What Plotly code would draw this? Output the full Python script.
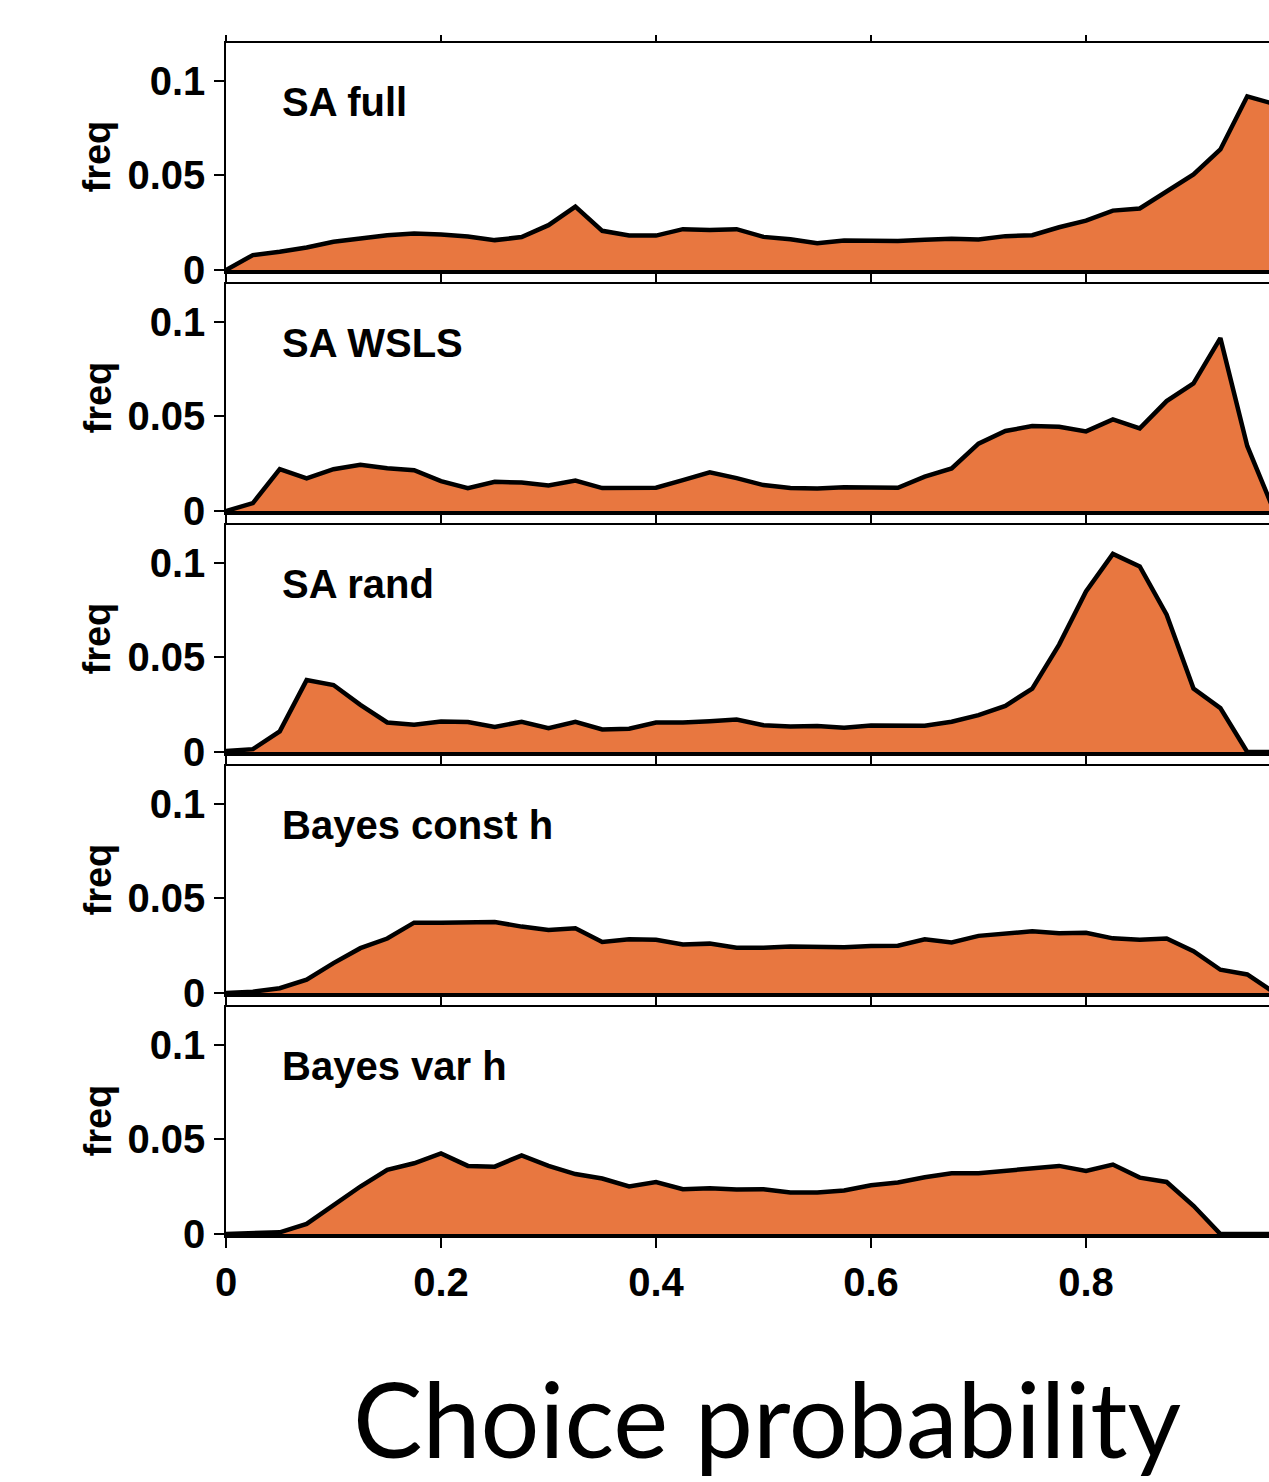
import plotly.graph_objects as go

# ---------------- data ----------------
choice_prob = [0.0, 0.025, 0.05, 0.075, 0.1, 0.125, 0.15, 0.175, 0.2, 0.225,
               0.25, 0.275, 0.3, 0.325, 0.35, 0.375, 0.4, 0.425, 0.45, 0.475,
               0.5, 0.525, 0.55, 0.575, 0.6, 0.625, 0.65, 0.675, 0.7, 0.725,
               0.75, 0.775, 0.8, 0.825, 0.85, 0.875, 0.9, 0.925, 0.95, 0.975]

sa_full = [0, .0079, .0096, .0119, .0149, .0167, .0184, .0193, .0188, .0177,
           .0158, .0174, .0237, .0335, .0207, .0182, .0182, .0216, .0211, .0216,
           .0175, .0163, .0142, .0156, .0156, .0153, .0160, .0165, .0161, .0179,
           .0184, .0226, .0261, .0314, .0325, .0412, .0505, .0637, .0918, .0878]

sa_wsls = [0, .0042, .0221, .0172, .0221, .0244, .0226, .0216, .0158, .0121,
           .0154, .0151, .0135, .0161, .0121, .0123, .0123, .0163, .0204, .0174,
           .0137, .0121, .0119, .0126, .0126, .0123, .0182, .0225, .0356, .0423,
           .0449, .0445, .0421, .0484, .0437, .0581, .0674, .0914, .0344, 0]

sa_rand = [.0005, .0015, .0109, .0380, .0354, .0249, .0156, .0144, .0161, .0158,
           .0132, .0160, .0126, .0160, .0119, .0123, .0156, .0156, .0163, .0172,
           .0142, .0135, .0137, .0128, .0140, .0137, .0139, .0160, .0195, .0244,
           .0335, .0568, .0849, .1047, .0981, .0726, .0335, .0232, 0, 0]

bayes_const = [0, .0007, .0025, .0070, .0158, .0237, .0288, .0372, .0372, .0374,
               .0375, .0351, .0333, .0342, .0270, .0284, .0281, .0256, .0261, .0239,
               .0239, .0246, .0246, .0242, .0249, .0250, .0284, .0267, .0302, .0316,
               .0326, .0316, .0318, .0289, .0282, .0288, .0221, .0123, .0098, .0003]

bayes_var = [0, .0004, .0009, .0053, .0149, .0251, .0339, .0374, .0426, .0360,
             .0356, .0416, .0360, .0317, .0293, .0251, .0275, .0237, .0242, .0235,
             .0237, .0219, .0219, .0230, .0258, .0272, .0300, .0321, .0321, .0335,
             .0346, .0360, .0333, .0367, .0298, .0275, .0149, 0, 0, 0]

panel_names = ["SA full", "SA WSLS", "SA rand", "Bayes const h", "Bayes var h"]
panel_series = [sa_full, sa_wsls, sa_rand, bayes_const, bayes_var]

x_tickvals = [0, 0.2, 0.4, 0.6, 0.8]
x_ticktext = ["0", "0.2", "0.4", "0.6", "0.8"]
y_tickvals = [0, 0.05, 0.1]
y_ticktext = ["0", "0.05", "0.1"]
y_label = "freq"
x_title = "Choice probability"

# ---------------- layout constants ----------------
W, H = 1269, 1482
FILL = "#E87740"
TICK_FONT = dict(family="Liberation Sans, Arial, sans-serif", size=40, color="black", weight="bold")
LABEL_FONT = dict(family="Liberation Sans, Arial, sans-serif", size=40, color="black", weight="bold")

x_left = 226 / W
x_range = [0, (W - 226) / 1075]
panel_step = 241
panel_top0 = 43
panel_bot0 = 270

fig = go.Figure()
layout = dict(
    width=W, height=H,
    margin=dict(l=0, r=0, t=0, b=0),
    paper_bgcolor="white", plot_bgcolor="white",
    showlegend=False,
    annotations=[],
)

n = len(panel_series)
for k in range(n):
    i = k + 1
    j = k + 1 + n  # overlay top axis
    top_px = panel_top0 + panel_step * k
    bot_px = panel_bot0 + panel_step * k
    ydom = [1 - bot_px / H, 1 - top_px / H]

    xa = "x" if i == 1 else f"x{i}"
    xb = f"x{j}"
    ya = "y" if i == 1 else f"y{i}"

    fig.add_trace(go.Scatter(
        x=choice_prob, y=panel_series[k], xaxis=xa, yaxis=ya,
        mode="lines", fill="tozeroy", fillcolor=FILL,
        line=dict(color="black", width=4.5), hoverinfo="skip",
    ))
    # invisible copy to register the top (mirror) axis
    fig.add_trace(go.Scatter(
        x=choice_prob, y=panel_series[k], xaxis=xb, yaxis=ya,
        mode="none", hoverinfo="skip",
    ))

    last = (k == n - 1)
    layout[f"xaxis{i}"] = dict(
        domain=[x_left, 1], range=x_range, anchor=ya,
        showline=True, linecolor="black", linewidth=3.5,
        ticks="outside", ticklen=10, tickwidth=1.5, tickcolor="black",
        tickvals=x_tickvals, ticktext=x_ticktext,
        showticklabels=last, tickfont=TICK_FONT, ticklabelstandoff=0,
        showgrid=False, zeroline=False, automargin=False, fixedrange=True,
    )
    layout[f"xaxis{j}"] = dict(
        overlaying=xa, side="top", range=x_range, anchor=ya,
        showline=True, linecolor="black", linewidth=1.5,
        ticks="outside", ticklen=6, tickwidth=1.5, tickcolor="black",
        tickvals=x_tickvals, showticklabels=False,
        showgrid=False, zeroline=False, automargin=False, fixedrange=True,
    )
    layout[f"yaxis{i}"] = dict(
        domain=ydom, range=[0, 0.12], anchor=xa,
        showline=True, linecolor="black", linewidth=1.5,
        ticks="outside", ticklen=10, tickwidth=1.5, tickcolor="black",
        tickvals=y_tickvals, ticktext=y_ticktext,
        tickfont=TICK_FONT, ticklabelstandoff=1,
        showgrid=False, zeroline=False, automargin=False, fixedrange=True,
    )

    # panel label
    layout["annotations"].append(dict(
        text=panel_names[k], xref=xa, yref=ya, x=0.05, y=0.089,
        xanchor="left", yanchor="middle", showarrow=False, font=LABEL_FONT,
    ))
    # y axis label
    layout["annotations"].append(dict(
        text=y_label, xref="paper", yref="paper",
        x=97 / W, y=1 - (top_px + bot_px) / 2 / H,
        xanchor="center", yanchor="middle", textangle=-90, showarrow=False,
        font=dict(family="Liberation Sans, Arial, sans-serif", size=38, color="black", weight="bold"),
    ))

layout["annotations"].append(dict(
    text=x_title, xref="paper", yref="paper", x=767 / W, y=1 - 1417 / H,
    xanchor="center", yanchor="middle", showarrow=False,
    font=dict(family="Lato, sans-serif", size=104, color="black"),
))

fig.update_layout(**layout)
fig.write_html(
    "out.html",
    config={"displayModeBar": False},
    post_script="document.body.style.margin='0';document.body.style.overflow='hidden';",
)
